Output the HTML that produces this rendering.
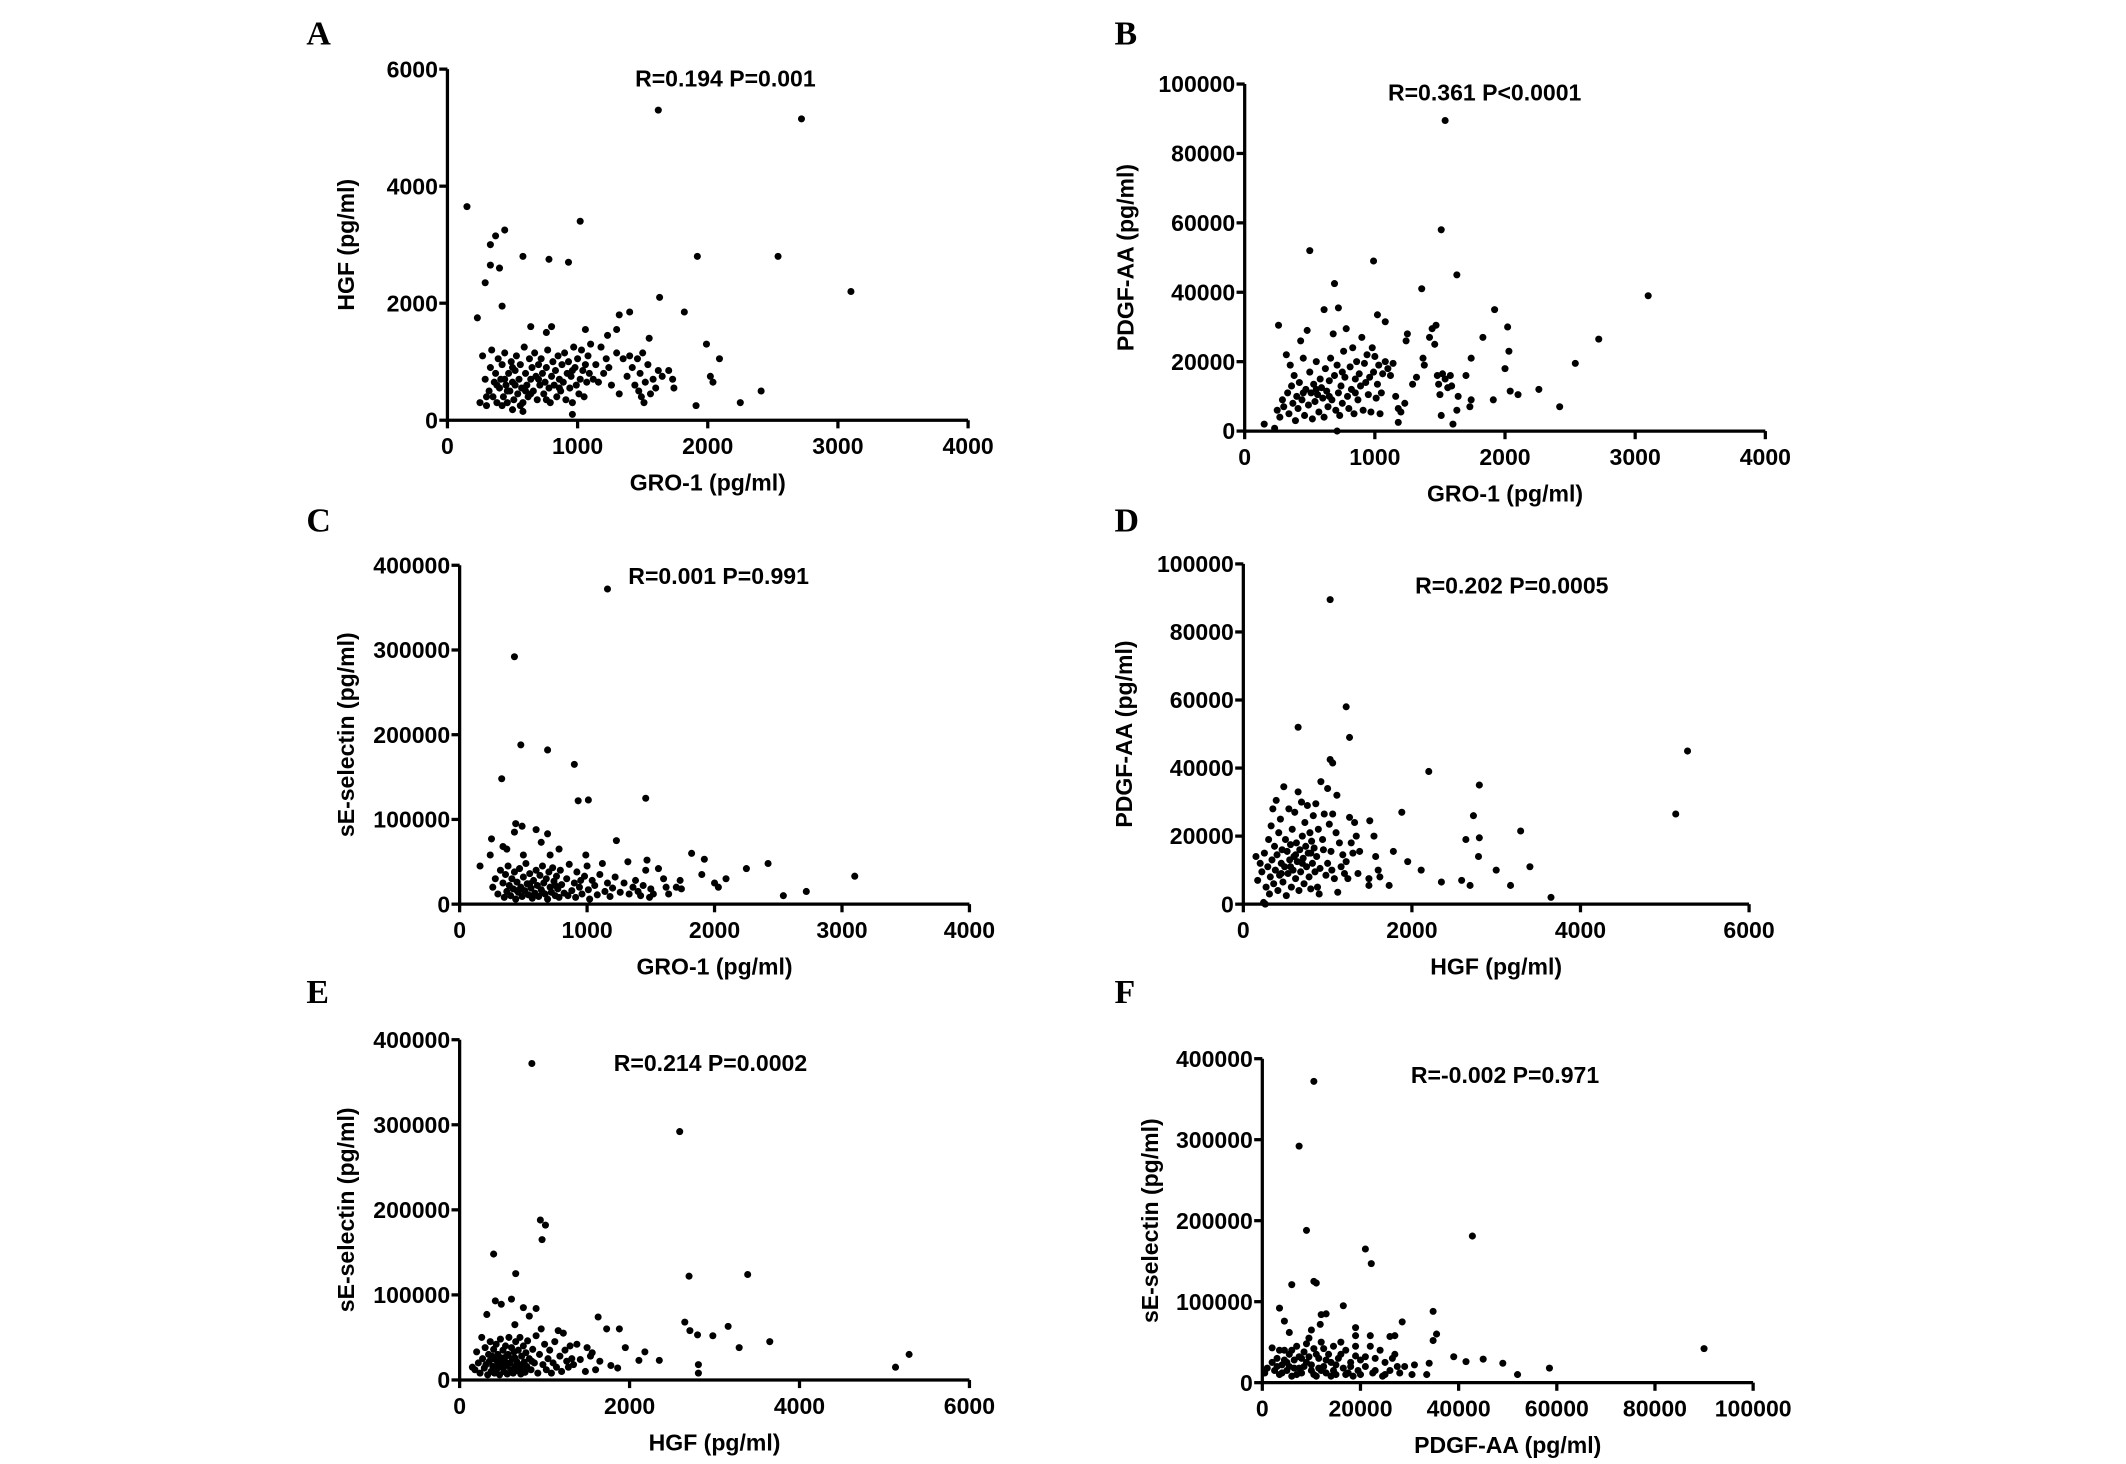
<!DOCTYPE html>
<html><head><meta charset="utf-8">
<style>
html,body{margin:0;padding:0;background:#fff;}
svg{display:block;}
text{font-family:"Liberation Sans",Arial,sans-serif;font-weight:bold;fill:#000;}
.letter{font-family:"Liberation Serif","Times New Roman",serif;font-size:25px;}
</style></head>
<body>
<svg id="fig" width="2126" height="1464" viewBox="0 0 1568 1080" preserveAspectRatio="none" xmlns="http://www.w3.org/2000/svg"></svg>
<script>
// ---------- data ----------
const pointsA = [[150,3650],[230,1750],[290,2350],[330,3000],[330,2650],[370,3150],[400,2600],[420,1950],[440,3250],[580,2800],[780,2750],[930,2700],[1020,3400],[1620,5300],[1630,2100],[1320,1800],[1400,1850],[1820,1850],[1920,2800],[2540,2800],[2720,5150],[3100,2200],[1990,1300],[2090,1050],[2020,750],[2040,650],[1910,250],[2250,300],[2410,500],[960,100],[580,150],[500,180],[1550,1400],[1700,850],[1730,700],[1740,550],[1060,1550],[1300,1550],[1230,1450],[640,1600],[800,1600],[760,1500],
[250,300],[270,1100],[290,700],[300,250],[320,500],[330,900],[340,1200],[350,400],[360,650],[370,800],[380,300],[390,1050],[400,550],[410,700],[420,950],[430,400],[440,1150],[450,600],[460,300],[470,800],[480,500],[490,1000],[500,650],[510,350],[520,850],[530,1100],[540,450],[550,700],[560,950],[570,550],[580,300],[590,1250],[600,800],[610,600],[620,400],[630,1050],[640,700],[650,900],[660,500],[670,1150],[680,750],[690,350],[700,950],[710,600],[720,1050],[730,800],[740,450],[750,650],[760,900],[770,1200],[780,550],[790,300],[800,750],[810,1000],[820,600],[830,850],[840,400],[850,1100],[860,700],[870,500],[880,950],[890,650],[900,1150],[910,350],[920,800],[930,1000],[940,550],[950,750],[960,300],[970,1250],[980,900],[990,600],[1000,1050],[1010,450],[1020,700],[1030,1200],[1040,850],[1050,400],[1060,950],[1070,650],[1080,1100],[1090,800],[1100,1300],[1120,700],[1140,950],[1160,650],[1180,1250],[1200,800],[1220,1050],[1240,900],[1260,600],[1300,1150],[1320,450],[1350,1050],[1380,750],[1400,1100],[1420,900],[1440,600],[1460,1050],[1470,500],[1480,800],[1490,400],[1500,1150],[1510,300],[1520,650],[1540,950],[1560,450],[1580,700],[1600,550],[1620,850],[1650,750],[440,700],[460,500],[520,600],[560,250],[600,500],[640,450],[700,700],[760,350],[860,550],[960,850],[380,600],[420,250],[500,900],[300,400]];

const pointsB = [[150,2000],[230,800],[260,30500],[500,52000],[690,42500],[610,35000],[720,35500],[990,49000],[1020,33500],[1080,31500],[1360,41000],[1510,58000],[1540,89500],[1630,45000],[1920,35000],[1830,27000],[2020,30000],[2030,23000],[2000,18000],[2040,11500],[2100,10500],[2260,12000],[2420,7000],[2540,19500],[2720,26500],[3100,39000],[1910,9000],[1740,21000],[1700,16000],[1740,9000],[1730,7000],[1600,2000],[1180,2500],[710,0],[1640,10000],[1630,6000],
[250,6000],[270,4000],[290,9000],[300,7000],[320,22000],[330,11000],[340,5000],[350,19000],[360,13000],[370,8000],[380,16000],[390,3000],[400,10000],[410,6500],[420,14000],[430,26000],[440,9000],[450,21000],[460,4500],[470,12000],[480,29000],[490,7500],[500,17000],[510,11000],[520,3500],[530,13500],[540,8500],[550,20000],[560,10500],[570,5500],[580,15000],[590,12500],[600,9500],[610,4000],[620,18000],[630,11500],[640,7000],[650,14500],[660,21000],[670,9000],[680,28000],[690,16000],[700,6000],[710,19000],[720,11000],[730,4500],[740,13000],[750,8000],[760,23000],[770,15500],[780,29500],[790,10000],[800,6500],[810,18500],[820,12000],[830,24000],[840,5000],[850,15000],[860,20000],[870,9000],[880,16500],[890,13000],[900,27000],[910,6000],[920,19500],[930,14000],[940,22000],[950,10500],[960,15500],[970,5500],[980,24000],[990,17000],[1000,21500],[1010,9500],[1020,13500],[1030,19000],[1040,5000],[1050,11000],[1060,16500],[1080,20000],[1100,18000],[1120,16000],[1140,19500],[1160,10000],[1180,6500],[1200,5500],[1230,8000],[1240,26000],[1250,28000],[1290,13500],[1320,15500],[1370,21000],[1380,19000],[1420,27000],[1440,29500],[1460,25000],[1470,30500],[1480,16000],[1490,13500],[1500,10500],[1510,4500],[1520,16500],[1540,15000],[1560,12500],[1580,16000],[1590,13000],[450,11000],[550,12000],[650,10000],[750,17000],[850,11000]];

const pointsC = [[1160,372000],[430,292000],[480,188000],[690,182000],[900,165000],[330,148000],[930,122000],[1010,123000],[1460,125000],[1230,75000],[1820,60000],[1920,53000],[2420,48000],[2250,42000],[1900,35000],[2090,30000],[2000,25000],[2030,20000],[3100,33000],[2720,15000],[2540,10000],[440,95000],[490,92000],[600,88000],[690,83000],[430,85000],[250,77000],[640,73000],[160,45000],[240,58000],[710,58000],[500,58000],[340,68000],[370,65000],[780,65000],[990,58000],
[260,20000],[280,30000],[300,12000],[320,40000],[340,25000],[350,8000],[360,35000],[370,15000],[380,45000],[390,22000],[400,10000],[410,30000],[420,18000],[430,38000],[440,6000],[450,26000],[460,14000],[470,42000],[480,20000],[490,9000],[500,32000],[510,16000],[520,48000],[530,24000],[540,11000],[550,36000],[560,19000],[570,7000],[580,28000],[590,13000],[600,40000],[610,22000],[620,9000],[630,34000],[640,17000],[650,45000],[660,25000],[670,12000],[680,30000],[690,6000],[700,38000],[710,20000],[720,14000],[730,43000],[740,27000],[750,10000],[760,33000],[770,18000],[780,8000],[790,40000],[800,23000],[820,13000],[840,30000],[860,47000],[880,16000],[900,25000],[910,8000],[920,38000],[940,20000],[960,12000],[980,33000],[1000,45000],[1010,17000],[1020,6000],[1040,28000],[1060,22000],[1080,11000],[1100,35000],[1120,48000],[1140,15000],[1160,25000],[1180,9000],[1200,19000],[1220,32000],[1260,14000],[1290,25000],[1320,50000],[1330,12000],[1360,20000],[1380,28000],[1400,15000],[1420,10000],[1440,22000],[1460,40000],[1470,52000],[1490,8000],[1500,18000],[1520,12000],[1560,42000],[1600,30000],[1620,20000],[1640,12000],[1700,20000],[1730,28000],[1740,18000],[450,16000],[550,24000],[650,14000],[750,22000],[850,10000],[950,28000]];

const pointsD = [[1030,89500],[1220,58000],[650,52000],[1260,49000],[1030,42500],[1060,41500],[2200,39000],[5270,45000],[2800,35000],[5130,26500],[2730,26000],[1880,27000],[3290,21500],[2640,19000],[2800,19500],[2790,14000],[1500,24500],[1550,20000],[1780,15500],[1950,12500],[2110,10000],[3000,10000],[3400,11000],[2350,6500],[2590,7000],[2690,5500],[3170,5500],[3650,2000],[1730,5500],[1620,8000],[1600,10000],[1490,5500],[1490,7500],[1570,14000],[240,500],[260,0],
[150,14000],[170,7000],[200,12000],[220,9500],[250,15000],[270,5000],[290,11000],[300,19000],[310,3000],[320,8000],[330,23000],[340,13000],[350,28000],[360,6000],[370,17000],[380,10000],[390,30500],[400,14500],[410,4000],[420,21000],[430,8500],[440,25000],[450,12000],[460,16000],[470,6500],[480,34500],[490,11000],[500,19000],[510,2500],[520,15500],[530,9000],[540,28000],[550,13000],[560,17500],[570,5000],[580,22000],[590,10000],[600,14000],[610,27000],[620,7500],[630,18000],[640,12500],[650,33000],[660,4000],[670,16000],[680,9500],[690,30000],[700,20000],[710,13500],[720,6000],[730,24000],[740,17000],[750,11000],[760,29000],[770,15000],[780,8000],[790,21000],[800,4500],[810,18500],[820,12000],[830,26000],[840,16500],[850,9500],[860,29500],[870,14000],[880,5000],[890,22000],[900,3000],[910,10500],[920,36000],[940,19000],[960,26500],[980,8500],[1000,34000],[1020,23500],[1040,15500],[1050,10000],[1060,26500],[1080,7500],[1100,21000],[1110,32000],[1120,3500],[1140,18000],[1160,11000],[1180,14500],[1200,9000],[1220,12500],[1240,7500],[1260,25500],[1280,18000],[1300,15000],[1320,24000],[1340,20000],[1360,9000],[1380,15500],[1000,12000],[950,16000],[560,11000],[620,14500],[450,9000],[700,12000],[800,15000]];

const pointsE = [[850,372000],[2590,292000],[950,188000],[1010,182000],[970,165000],[400,148000],[660,125000],[2700,122000],[3390,124000],[610,95000],[420,93000],[490,89000],[750,85000],[900,84000],[320,77000],[820,75000],[1630,74000],[1730,60000],[1880,60000],[2650,68000],[2710,58000],[2800,53000],[2980,52000],[3160,63000],[3650,45000],[3290,38000],[1950,38000],[2180,33000],[2110,23000],[2350,23000],[1860,14000],[1780,17000],[1650,22000],[2810,18000],[2810,8000],[5130,15000],[5290,30000],[1600,12000],[1480,10000],[650,65000],
[150,15000],[180,12000],[200,33000],[220,20000],[240,8000],[260,50000],[270,25000],[290,14000],[300,38000],[310,18000],[330,6000],[340,30000],[350,22000],[360,45000],[370,10000],[380,28000],[390,16000],[400,36000],[410,8000],[420,24000],[430,42000],[440,13000],[450,30000],[460,19000],[470,6000],[480,48000],[490,26000],[500,15000],[510,35000],[520,10000],[530,22000],[540,40000],[550,17000],[560,7000],[570,30000],[580,50000],[590,20000],[600,12000],[610,38000],[620,25000],[630,8000],[640,33000],[650,16000],[660,45000],[670,22000],[680,11000],[690,35000],[700,18000],[710,50000],[720,7000],[730,28000],[740,14000],[750,40000],[760,21000],[770,9000],[780,32000],[790,16000],[800,46000],[820,25000],[840,12000],[860,36000],[880,20000],[900,52000],[920,8000],[940,30000],[960,60000],[980,18000],[1000,42000],[1020,12000],[1040,25000],[1060,35000],[1080,8000],[1100,20000],[1120,45000],[1140,15000],[1160,58000],[1180,28000],[1200,10000],[1220,55000],[1240,35000],[1260,22000],[1280,15000],[1300,40000],[1320,25000],[1340,18000],[1380,42000],[1420,24000],[1500,38000],[1540,28000],[1560,32000],[450,20000],[550,28000],[650,26000],[750,12000],[850,22000]];

const pointsF = [[10500,372000],[7500,292000],[9000,188000],[21000,165000],[22200,147000],[42800,181000],[10500,125000],[11000,123000],[6000,121000],[3500,92000],[16500,95000],[34800,88000],[4500,76000],[12000,84000],[13000,85000],[28500,75000],[10000,65000],[11800,72000],[5500,62000],[19000,68000],[19000,58000],[22000,58000],[26000,57000],[27000,58000],[35500,60000],[34800,52000],[39000,32000],[41500,26000],[45000,29000],[49000,24000],[52000,10000],[58500,18000],[90000,42000],[2000,43000],[34000,24000],[33500,10000],[30500,10000],[31000,22000],[29000,20000],
[500,12000],[1000,18000],[2000,25000],[2500,15000],[3000,30000],[3500,10000],[4000,22000],[4500,40000],[5000,15000],[5500,35000],[6000,8000],[6500,28000],[7000,45000],[7500,18000],[8000,12000],[8500,38000],[9000,25000],[9500,55000],[10000,15000],[10500,42000],[11000,8000],[11500,30000],[12000,50000],[12500,20000],[13000,12000],[13500,35000],[14000,25000],[14500,45000],[15000,10000],[15500,30000],[16000,50000],[16500,18000],[17000,40000],[17500,12000],[18000,25000],[18500,8000],[19000,33000],[19500,15000],[20000,28000],[21000,20000],[22000,45000],[22500,12000],[23000,30000],[24000,40000],[24500,8000],[25000,25000],[26000,15000],[27000,35000],[27500,20000],[28000,12000],[3000,20000],[4000,12000],[5000,25000],[6000,40000],[7000,10000],[8000,30000],[9000,48000],[10000,22000],[11000,35000],[12000,15000],[13000,28000],[14000,8000],[15000,22000],[16000,35000],[17000,10000],[18000,20000],[19000,45000],[20000,10000],[21000,32000],[23000,15000],[25000,10000],[26500,30000],[8500,20000],[9500,32000],[10500,10000],[11500,18000],[12500,42000],[14500,15000],[6500,18000],[7500,32000],[5500,20000],[4500,28000],[3500,40000]];

const ticksGro = [0,1000,2000,3000,4000];
const ticksHgf = [0,2000,4000,6000];
const ticksPdgf = [0,20000,40000,60000,80000,100000];
const ticksSel = [0,100000,200000,300000,400000];
const ticksHgfY = [0,2000,4000,6000];

const statsText = ["R=0.194 P=0.001","R=0.361 P<0.0001","R=0.001 P=0.991","R=0.202 P=0.0005","R=0.214 P=0.0002","R=-0.002 P=0.971"];
const panelLetters = ["A","B","C","D","E","F"];

// ---------- layout ----------
const layout = [
 {key:"a", pts:pointsA, x0:330,x1:714,yb:310,yt:51, xt:ticksGro, yt_:ticksHgfY, xl:"GRO-1 (pg/ml)", yl:"HGF (pg/ml)", stx:535, sty:64, lx:226, ly:33, yoff:75},
 {key:"b", pts:pointsB, x0:918,x1:1302,yb:318,yt:62, xt:ticksGro, yt_:ticksPdgf, xl:"GRO-1 (pg/ml)", yl:"PDGF-AA (pg/ml)", stx:1095, sty:74, lx:822, ly:33, yoff:88},
 {key:"c", pts:pointsC, x0:339,x1:715,yb:667,yt:417, xt:ticksGro, yt_:ticksSel, xl:"GRO-1 (pg/ml)", yl:"sE-selectin (pg/ml)", stx:530, sty:431, lx:226, ly:392, yoff:84},
 {key:"d", pts:pointsD, x0:917,x1:1290,yb:667,yt:416, xt:ticksHgf, yt_:ticksPdgf, xl:"HGF (pg/ml)", yl:"PDGF-AA (pg/ml)", stx:1115, sty:438, lx:822, ly:392, yoff:88},
 {key:"e", pts:pointsE, x0:339,x1:715,yb:1018,yt:767, xt:ticksHgf, yt_:ticksSel, xl:"HGF (pg/ml)", yl:"sE-selectin (pg/ml)", stx:524, sty:790, lx:226, ly:740, yoff:84},
 {key:"f", pts:pointsF, x0:931,x1:1293,yb:1020,yt:781, xt:ticksPdgf, yt_:ticksSel, xl:"PDGF-AA (pg/ml)", yl:"sE-selectin (pg/ml)", stx:1110, sty:799, lx:822, ly:740, yoff:83}
];

const NS = "http://www.w3.org/2000/svg";
const svg = document.getElementById("fig");
function mk(tag, attrs, parent){
  const e = document.createElementNS(NS, tag);
  for (const k in attrs) e.setAttribute(k, attrs[k]);
  parent.appendChild(e);
  return e;
}

layout.forEach((p, i) => {
  const g = mk("g", {}, svg);
  
  
  const xmax = p.xt[p.xt.length-1], ymax = p.yt_[p.yt_.length-1];
  const sx = v => p.x0 + (v / xmax) * (p.x1 - p.x0);
  const sy = v => p.yb - (v / ymax) * (p.yb - p.yt);

  const letter = mk("text", {x:p.lx, y:p.ly, "class":"letter"}, g);
  letter.textContent = panelLetters[i];
  
  

  const yAx = mk("line", {x1:p.x0, y1:p.yb+1.2, x2:p.x0, y2:p.yt, stroke:"#000","stroke-width":2.4}, g);
  
  
  const xAx = mk("line", {x1:p.x0-1.2, y1:p.yb, x2:p.x1, y2:p.yb, stroke:"#000","stroke-width":2.4}, g);
  
  

  p.xt.forEach(t => {
    const X = sx(t);
    const tk = mk("line", {x1:X, y1:p.yb, x2:X, y2:p.yb+6, stroke:"#000","stroke-width":2.4}, g);
    
    
    const tl = mk("text", {x:X, y:p.yb+25, "text-anchor":"middle","font-size":17}, g);
    tl.textContent = String(t);
    
    
  });
  p.yt_.forEach(t => {
    const Y = sy(t);
    const tk = mk("line", {x1:p.x0-6, y1:Y, x2:p.x0, y2:Y, stroke:"#000","stroke-width":2.4}, g);
    
    
    const tl = mk("text", {x:p.x0-7, y:Y+6, "text-anchor":"end","font-size":17}, g);
    tl.textContent = String(t);
    
    
  });

  const xl = mk("text", {x:(p.x0+p.x1)/2, y:p.yb+52, "text-anchor":"middle","font-size":17}, g);
  xl.textContent = p.xl;
  
  
  const cy = (p.yb+p.yt)/2, cx = p.x0 - p.yoff + 6;
  const yl = mk("text", {x:cx, y:cy, "text-anchor":"middle","font-size":17, transform:"rotate(-90 "+cx+" "+cy+")"}, g);
  yl.textContent = p.yl;
  
  

  const st = mk("text", {x:p.stx, y:p.sty, "text-anchor":"middle","font-size":17}, g);
  st.textContent = statsText[i];
  
  

  p.pts.forEach(d => {
    const c = mk("circle", {cx:sx(d[0]), cy:sy(d[1]), r:2.6, fill:"#000"}, g);
    
    
  });
});
</script>
</body></html>
